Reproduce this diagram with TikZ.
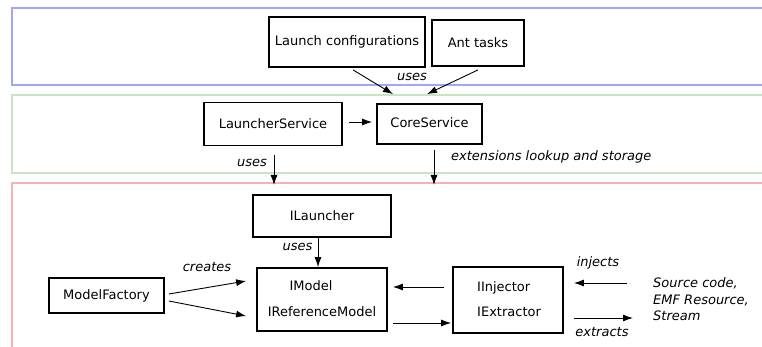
\documentclass[tikz,border=0pt]{standalone}
\usepackage{fontspec}
\setmainfont{DejaVu Sans}
\usetikzlibrary{arrows.meta}
\definecolor{bandblue}{RGB}{165,165,245}
\definecolor{bandgreen}{RGB}{195,230,195}
\definecolor{bandred}{RGB}{245,180,180}
\begin{document}
\begin{tikzpicture}[x=1pt, y=-1pt,
        font=\fontsize{13}{16}\selectfont,
        box/.style={rectangle, draw, line width=1.8pt, inner sep=0pt},
        txt/.style={inner sep=0pt},
        lbl/.style={inner sep=0pt, font=\fontsize{13}{16}\selectfont\itshape},
        edge/.style={-{Latex[length=10pt,width=7pt]}, line width=0.9pt},
        band/.style={line width=2.4pt}]
        \clip (0,0) rectangle (762,347);

        % Layers
        \draw[band, bandblue] (12,8) rectangle (780,85);
        \draw[band, bandgreen] (12,95) rectangle (780,173);
        \draw[band, bandred] (12,183) rectangle (780,380);

        % Nodes
        \node (lc) [box, minimum width=156pt, minimum height=50pt] at (347,42) {Launch configurations};
        \node (ant) [box, minimum width=92pt, minimum height=46pt] at (478,43) {Ant tasks};
        \node (ls) [box, minimum width=138pt, minimum height=43pt] at (273,124) {LauncherService};
        \node (cs) [box, minimum width=105pt, minimum height=40pt] at (429.5,124) {\raisebox{3pt}{CoreService}};
        \node (il) [box, minimum width=138pt, minimum height=42pt] at (322,216) {ILauncher};
        \node (im) [box, minimum width=130pt, minimum height=63pt] at (322,299.5) {};
        \node (mf) [box, minimum width=115pt, minimum height=35pt] at (106.5,295.5) {ModelFactory};
        \node (ie) [box, minimum width=110pt, minimum height=66pt] at (508,300) {};
        \node (imtxt) [txt] at (311,286) {IModel};
        \node (irtxt) [txt] at (322,312) {IReferenceModel};
        \node (ietxt) [txt, anchor=west, align=left, font=\fontsize{13}{25}\selectfont] at (477,299.5) {IInjector\\IExtractor};
        \node (src) [txt, anchor=west, align=left, font=\fontsize{13}{16.5}\selectfont\itshape] at (653,299.5) {Source code,\\EMF Resource,\\Stream};
        \coordinate (lsin) at (274,185);
        \coordinate (csin) at (434,185);
        \coordinate (srcin) at (627,283);
        \coordinate (srcout) at (633,318);

        % Labels
        \node (usestop) [lbl] at (412,77) {uses};
        \node (usesmid) [lbl] at (252,163) {uses};
        \node (lookup) [lbl, anchor=west] at (451,157) {extensions lookup and storage};
        \node (usesbot) [lbl] at (297.5,247) {uses};
        \node (creates) [lbl] at (207,267) {creates};
        \node (injects) [lbl] at (598,263) {injects};
        \node (extracts) [lbl] at (602,332) {extracts};

        % Edges
        \draw[edge] ([xshift=6pt,yshift=-2pt]lc.south) -- ([xshift=-36.5pt,yshift=9pt]cs.north);
        \draw[edge] ([yshift=-3pt]ant.south) -- ([xshift=-2.5pt,yshift=9pt]cs.north);
        \draw[edge] ([xshift=6pt,yshift=2pt]ls.east) -- ([xshift=-4pt,yshift=2pt]cs.west);
        \draw[edge] ([xshift=1pt,yshift=-8.5pt]ls.south) -- (lsin);
        \draw[edge] ([xshift=4.5pt,yshift=-5pt]cs.south) -- (csin);
        \draw[edge] ([xshift=-4pt]il.south) -- ([xshift=-4pt]im.north);
        \draw[edge] ([xshift=4pt,yshift=1.5pt]mf.east) -- ([xshift=-10pt,yshift=18.5pt]im.west);
        \draw[edge] ([xshift=4pt,yshift=-5.5pt]mf.east) -- ([xshift=-10pt,yshift=-16.5pt]im.west);
        \draw[edge] ([xshift=-8pt,yshift=13pt]ie.west) -- ([xshift=5pt,yshift=12.5pt]im.east);
        \draw[edge] ([xshift=5pt,yshift=-23.5pt]im.east) -- ([xshift=-1pt,yshift=-23pt]ie.west);
        \draw[edge] (srcin) -- ([xshift=10pt,yshift=17pt]ie.east);
        \draw[edge] ([xshift=10pt,yshift=-18pt]ie.east) -- (srcout);

\end{tikzpicture}
\end{document}
